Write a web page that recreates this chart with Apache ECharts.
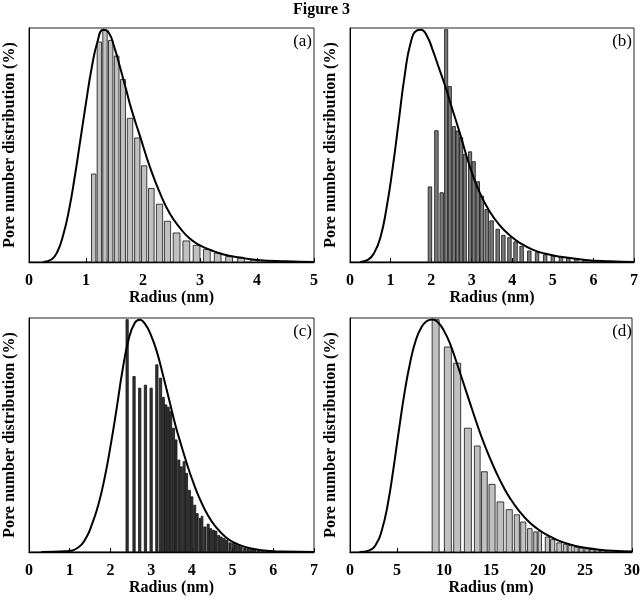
<!DOCTYPE html>
<html>
<head>
<meta charset="utf-8">
<script src="https://cdn.jsdelivr.net/npm/echarts@6/dist/echarts.min.js"></script>
<style>
  html, body { margin: 0; padding: 0; background: #fff; }
  #main { width: 643px; height: 600px; }
</style>
</head>
<body>
<div id="main"></div>
<script>
// panel (a)
const barRadiusA = [1.135, 1.234, 1.333, 1.433, 1.538, 1.649, 1.772, 1.90, 2.02, 2.146, 2.29, 2.43, 2.59, 2.76, 2.94, 3.12, 3.31, 3.51, 3.72, 3.95];
const barValueA = [37.6, 94.0, 99.0, 94.7, 88.0, 78.0, 61.4, 53.0, 41.1, 31.4, 24.7, 17.4, 12.4, 9.0, 7.1, 5.3, 3.8, 2.3, 1.7, 1.0];
const curveRadiusA = [0.25, 0.40, 0.50, 0.60, 0.70, 0.80, 0.90, 1.00, 1.10, 1.20, 1.30, 1.40, 1.50, 1.60, 1.70, 1.80, 1.95, 2.12, 2.30, 2.47, 2.65, 2.82, 3.0, 3.2, 3.4, 3.7, 4.0, 4.5, 5.0];
const curveValueA = [0, 1.2, 4.5, 11.5, 22, 36, 52, 68, 83, 94, 99.2, 98, 91.5, 83, 74, 65, 53.6, 40.7, 29.3, 20.7, 14.5, 10, 7.1, 5, 3.3, 1.9, 0.9, 0.3, 0];

// panel (b)
const barRadiusB = [1.97, 2.13, 2.26, 2.37, 2.46, 2.56, 2.65, 2.74, 2.83, 2.96, 3.05, 3.15, 3.25, 3.37, 3.49, 3.64, 3.78, 3.93, 4.08, 4.23, 4.42, 4.61, 4.81, 5.0, 5.2, 5.38, 5.58, 5.79, 5.99];
const barValueB = [32.1, 56.1, 29.6, 99.3, 75, 57.9, 56, 53.1, 46, 47.1, 42.9, 34.3, 28.1, 22.4, 17.6, 14, 11.4, 10.4, 8.6, 6.7, 4.7, 4.0, 3.1, 2.6, 2.2, 1.8, 1.5, 1.0, 0.6];
const curveRadiusB = [0.25, 0.45, 0.6, 0.75, 0.9, 1.05, 1.2, 1.35, 1.5, 1.65, 1.75, 1.9, 2.05, 2.2, 2.35, 2.5, 2.7, 2.95, 3.2, 3.45, 3.7, 3.95, 4.2, 4.5, 4.8, 5.2, 5.8, 6.4, 7];
const curveValueB = [0, 1, 4, 10.5, 23, 40, 60, 80, 94, 99, 99.3, 96.5, 90, 82.5, 75, 66.5, 55.5, 41, 29.5, 21.4, 15.5, 11.2, 8, 5.3, 3.6, 2.2, 0.9, 0.3, 0];

// panel (c)
const barRadiusC = [2.41, 2.58, 2.72, 2.86, 3.0, 3.14, 3.23, 3.30, 3.36, 3.42, 3.48, 3.55, 3.61, 3.68, 3.74, 3.81, 3.87, 3.94, 4.0, 4.07, 4.13, 4.2, 4.25, 4.32, 4.40, 4.46, 4.53, 4.59, 4.66, 4.72, 4.79, 4.86, 4.94, 5.02, 5.08, 5.15, 5.21, 5.30, 5.38, 5.46, 5.54, 5.64, 5.74, 5.84, 5.95];
const barValueC = [99.3, 75, 70, 71.3, 70, 80, 74.3, 66.1, 62.9, 61.9, 60, 52.9, 47.9, 39.3, 36.4, 38.6, 33.6, 26.4, 23.6, 20, 16.4, 14.3, 15.3, 10.7, 11.9, 10, 9.3, 8.9, 7.1, 6.4, 5.7, 5, 3.9, 3.6, 3.1, 2.7, 2.1, 1.7, 1.4, 1.1, 1.0, 0.7, 0.6, 0.4, 0.3];
const curveRadiusC = [0.3, 0.9, 1.2, 1.4, 1.55, 1.7, 1.85, 2.0, 2.15, 2.3, 2.45, 2.6, 2.72, 2.85, 3.0, 3.15, 3.3, 3.45, 3.6, 3.75, 3.9, 4.05, 4.2, 4.4, 4.6, 4.8, 5.0, 5.3, 5.7, 6.2, 7];
const curveValueC = [0, 0.3, 1.8, 6, 12, 20, 31, 45, 61, 78, 91, 98, 99.3, 97.5, 92.5, 85, 75, 64.5, 54, 45, 36.5, 29, 22.5, 15.5, 10.5, 6.8, 4.3, 2.2, 0.8, 0.2, 0];

// panel (d)
const barRadiusD = [9.11, 10.41, 11.40, 12.54, 13.54, 14.30, 15.11, 16.0, 16.94, 17.75, 18.43, 19.13, 19.73, 20.19, 21.0, 21.56, 22.26, 22.9, 23.4, 24.06, 24.6, 25.2, 25.75, 26.3, 26.9, 27.6, 28.3];
const barValueD = [99.3, 87.6, 80.7, 52.9, 45.3, 34.3, 28.9, 21.4, 18.1, 15.9, 12.8, 10, 8.6, 8.9, 6.4, 5.3, 3.9, 3.3, 2.9, 2.1, 1.7, 1.4, 1.1, 1.0, 0.7, 0.6, 0.4];
const curveRadiusD = [1.0, 2.0, 2.8, 3.4, 4.0, 4.6, 5.2, 5.8, 6.4, 7.0, 7.6, 8.2, 8.8, 9.4, 10.0, 10.6, 11.3, 12.0, 12.7, 13.4, 14.1, 14.8, 15.5, 16.3, 17.1, 18.0, 19.0, 20.0, 21.0, 22.0, 23.5, 25.0, 26.5, 28.0, 30];
const curveValueD = [0, 0.6, 3.5, 9.5, 20, 35, 52, 68, 81, 90.5, 96, 98.8, 99.4, 98, 94.5, 89.5, 81.5, 73, 64.5, 56, 48, 41, 34.5, 28, 22.5, 17.5, 13, 9.7, 7.2, 5.2, 3.1, 1.8, 1.0, 0.5, 0.2];

const xMaxes = [5, 7, 7, 30];
const xSteps = [1, 1, 1, 5];
const panelNames = ["(a)", "(b)", "(c)", "(d)"];

const font = "Liberation Serif";
const chart = echarts.init(document.getElementById("main"));

const zip = (xs, ys) => xs.map((x, i) => [x, ys[i]]);

// bar width follows the gap to neighbouring bars, capped per panel
function barRenderer(radii, ratio, maxW, fill) {
  return (params, api) => {
    const i = params.dataIndex;
    const top = api.coord([api.value(0), api.value(1)]);
    const base = api.coord([api.value(0), 0]);
    let gap = Infinity;
    if (i > 0) gap = Math.min(gap, top[0] - api.coord([radii[i - 1], 0])[0]);
    if (i < radii.length - 1) gap = Math.min(gap, api.coord([radii[i + 1], 0])[0] - top[0]);
    const w = Math.min(maxW, gap * ratio);
    return {
      type: "rect",
      shape: { x: top[0] - w / 2, y: top[1], width: w, height: base[1] - top[1] },
      style: { fill: fill, stroke: "#111", lineWidth: 0.8 },
    };
  };
}

const grids = [
  { left: 29, top: 28, width: 285, height: 234 },
  { left: 350, top: 28, width: 284, height: 234 },
  { left: 29, top: 318, width: 285, height: 234 },
  { left: 350, top: 318, width: 284, height: 234 },
];

const panels = [
  { r: barRadiusA, v: barValueA, cr: curveRadiusA, cv: curveValueA, ratio: 0.78, maxW: 6.8, fill: "#c0c0c0" },
  { r: barRadiusB, v: barValueB, cr: curveRadiusB, cv: curveValueB, ratio: 0.85, maxW: 3.5, fill: "#7a7a7a" },
  { r: barRadiusC, v: barValueC, cr: curveRadiusC, cv: curveValueC, ratio: 0.85, maxW: 2.3, fill: "#333333" },
  { r: barRadiusD, v: barValueD, cr: curveRadiusD, cv: curveValueD, ratio: 0.8, maxW: 7, fill: "#c0c0c0" },
];

const letterStyle = { fontFamily: font, fontWeight: "normal", fontSize: 17, color: "#000" };

const option = {
  animation: false,
  backgroundColor: "#fff",
  title: [
    { text: "Figure 3", left: "center", top: 2, padding: 0, textStyle: { fontFamily: font, fontWeight: "bold", fontSize: 16, color: "#000" } },
    { text: panelNames[0], right: 331, top: 33, padding: 0, textStyle: letterStyle },
    { text: panelNames[1], right: 11, top: 33, padding: 0, textStyle: letterStyle },
    { text: panelNames[2], right: 331, top: 323, padding: 0, textStyle: letterStyle },
    { text: panelNames[3], right: 11, top: 323, padding: 0, textStyle: letterStyle },
  ],
  grid: grids.map((g) => Object.assign({ show: true, borderColor: "#222", borderWidth: 1 }, g)),
  xAxis: grids.map((g, i) => ({
    type: "value",
    gridIndex: i,
    min: 0,
    max: xMaxes[i],
    interval: xSteps[i],
    name: "Radius (nm)",
    nameLocation: "middle",
    nameGap: 27,
    nameTextStyle: { fontFamily: font, fontWeight: "bold", fontSize: 16, color: "#000" },
    axisLine: { lineStyle: { color: "#000", width: 1.3 } },
    axisTick: { inside: true, length: 4, lineStyle: { color: "#000" } },
    axisLabel: { fontFamily: font, fontWeight: "bold", fontSize: 16, color: "#000", margin: 11 },
    splitLine: { show: false },
  })),
  yAxis: grids.map((g, i) => ({
    type: "value",
    gridIndex: i,
    min: 0,
    max: 100,
    name: "Pore number distribution (%)",
    nameLocation: "middle",
    nameGap: 11,
    nameTextStyle: { fontFamily: font, fontWeight: "bold", fontSize: 16, color: "#000" },
    axisLine: { show: true, lineStyle: { color: "#000", width: 1 } },
    axisTick: { show: false },
    axisLabel: { show: false },
    splitLine: { show: false },
  })),
  series: [],
};

panels.forEach((p, i) => {
  option.series.push({
    type: "custom",
    xAxisIndex: i,
    yAxisIndex: i,
    renderItem: barRenderer(p.r, p.ratio, p.maxW, p.fill),
    data: zip(p.r, p.v),
    z: 2,
  });
  option.series.push({
    type: "line",
    xAxisIndex: i,
    yAxisIndex: i,
    smooth: true,
    symbol: "none",
    lineStyle: { color: "#000", width: 2 },
    data: zip(p.cr, p.cv),
    z: 3,
  });
});

chart.setOption(option);
</script>
</body>
</html>
